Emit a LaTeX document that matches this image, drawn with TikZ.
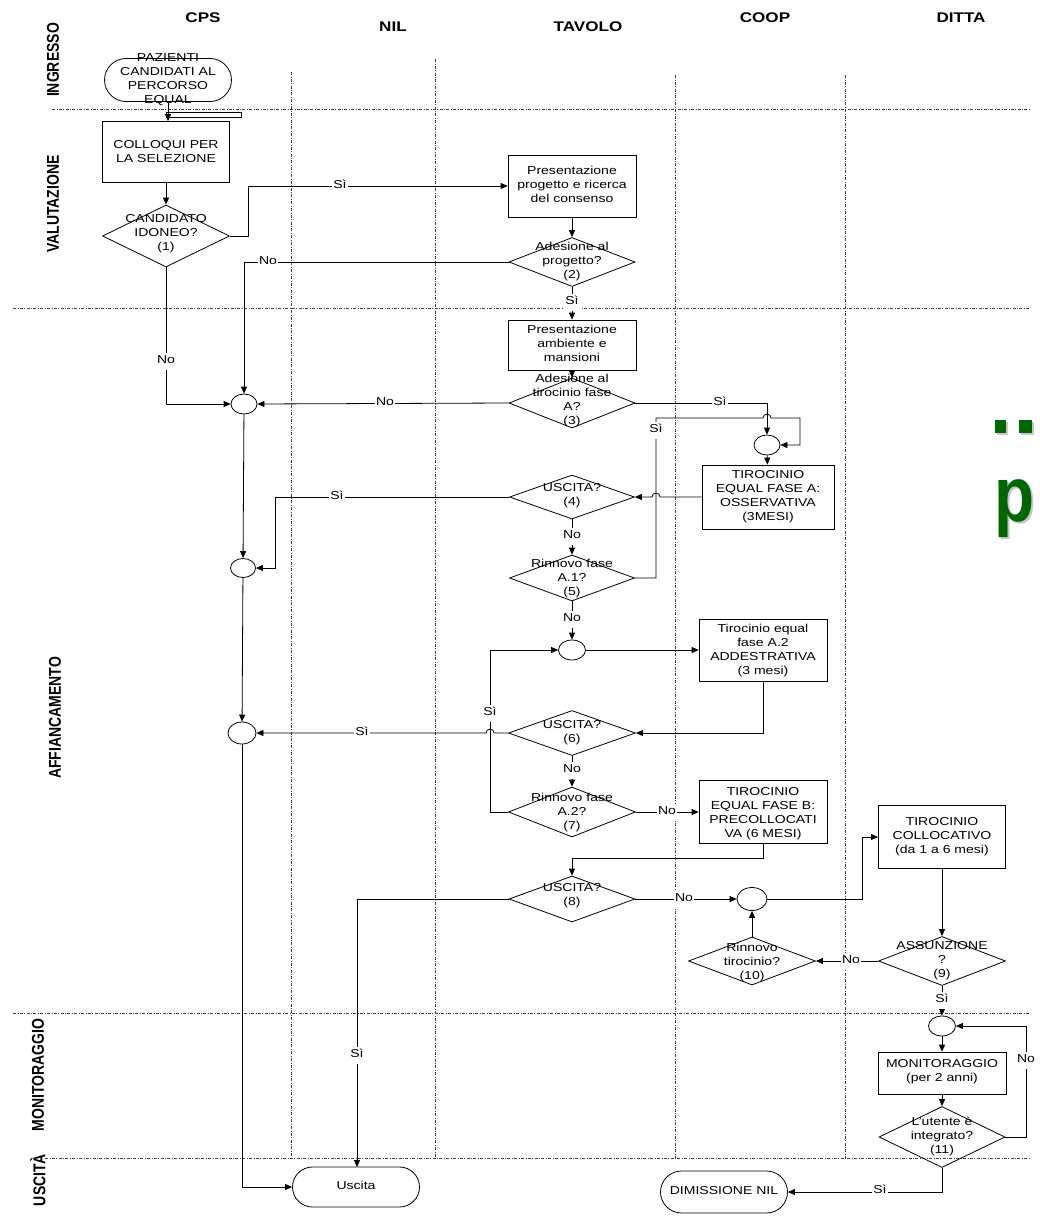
\documentclass[tikz,border=0pt]{standalone}
\usepackage{fontspec}
\setmainfont{Liberation Sans}
\usepackage{graphicx}
\usetikzlibrary{shapes.geometric,shapes.misc,arrows.meta}
\definecolor{grn}{RGB}{0,102,0}
% text is set slightly wide, as in the original chart
\newcommand{\tx}[1]{\scalebox{1.22}[1]{\begin{tabular}{@{}c@{}}#1\end{tabular}}}
\newcommand{\hd}[1]{\scalebox{1.22}[1]{\bfseries #1}}
\newcommand{\sd}[1]{\scalebox{1}[1.22]{\bfseries #1}}
\tikzset{
  lane/.style={draw=black!75, line width=0.6pt, dash pattern=on 3pt off 1.5pt on 0.8pt off 1.5pt},
  box/.style={draw, line width=0.8pt, rectangle, inner sep=0pt},
  dia/.style={draw, line width=0.8pt, diamond, inner sep=0pt},
  term/.style={draw, line width=0.8pt, rounded rectangle, inner sep=0pt},
  jn/.style={draw, line width=0.8pt, ellipse, inner sep=0pt},
  txt/.style={inner sep=0pt, font=\fontsize{11.5}{14}\selectfont},
  lbl/.style={fill=white, inner sep=1.5pt, font=\fontsize{11.5}{14}\selectfont},
  conn/.style={line width=0.8pt, -{Triangle[length=7pt,width=6pt]}},
  wire/.style={line width=0.8pt},
  hdr/.style={inner sep=0pt, font=\fontsize{14}{16}\selectfont},
}
\begin{document}
\begin{tikzpicture}[x=1pt,y=-1pt]
\useasboundingbox (0,0) rectangle (1039,1218);
\fill[white] (0,0) rectangle (1039,1218);

% ---- swimlanes ----
\draw[lane] (291,72) -- (291,1158);
\draw[lane] (435,59) -- (435,1158);
\draw[lane] (675,75) -- (675,1158);
\draw[lane] (845,75) -- (845,1158);
\draw[lane] (52,109) -- (1030,109);
\draw[lane] (13,308) -- (1030,308);
\draw[lane] (13,1013) -- (1030,1013);
\draw[lane] (45,1158) -- (1030,1158);

% column headings
\node[hdr] (hCPS) at (203,18) {\hd{CPS}};
\node[hdr] (hNIL) at (393,27) {\hd{NIL}};
\node[hdr] (hTAV) at (588,27) {\hd{TAVOLO}};
\node[hdr] (hCOOP) at (765,18) {\hd{COOP}};
\node[hdr] (hDIT) at (961,18) {\hd{DITTA}};

% phase headings
\node[hdr, rotate=90] (pIng) at (53,60) {\sd{INGRESSO}};
\node[hdr, rotate=90] (pVal) at (53,204) {\sd{VALUTAZIONE}};
\node[hdr, rotate=90] (pAff) at (55,718) {\sd{AFFIANCAMENTO}};
\node[hdr, rotate=90] (pMon) at (38,1075) {\sd{MONITORAGGIO}};
\node[hdr, rotate=90] (pUsc) at (38,1180) {\sd{USCITÀ}};

% ---- shapes ----
\node[term, minimum width=127pt, minimum height=43pt] (st) at (168,80) {};
\node[box, minimum width=127pt, minimum height=61pt] (c1) at (166,152) {};
\node[dia, minimum width=127pt, minimum height=62pt] (d1) at (166,236) {};
\node[box, minimum width=128pt, minimum height=62pt] (b2) at (572,186) {};
\node[dia, minimum width=126pt, minimum height=49pt] (d2) at (572,262) {};
\node[box, minimum width=128pt, minimum height=50pt] (b3) at (572,345) {};
\node[dia, minimum width=126pt, minimum height=50pt] (d3) at (572,403) {};
\node[jn, minimum width=26pt, minimum height=20pt] (J1) at (244,404) {};
\node[jn, minimum width=26pt, minimum height=20pt] (J2) at (767,445) {};
\node[box, minimum width=132pt, minimum height=64pt] (b4) at (768,497) {};
\node[dia, minimum width=125pt, minimum height=44pt] (d4) at (572,497) {};
\node[dia, minimum width=125pt, minimum height=46pt] (d5) at (572,578) {};
\node[jn, minimum width=25pt, minimum height=19pt] (J3) at (243,568) {};
\node[jn, minimum width=27pt, minimum height=20pt] (J4) at (572,650) {};
\node[box, minimum width=128pt, minimum height=62pt] (b5) at (763,650) {};
\node[dia, minimum width=127pt, minimum height=45pt] (d6) at (572,733) {};
\node[jn, minimum width=28pt, minimum height=22pt] (J5) at (242,733) {};
\node[dia, minimum width=127pt, minimum height=50pt] (d7) at (572,812) {};
\node[box, minimum width=128pt, minimum height=63pt] (b6) at (763,812) {};
\node[dia, minimum width=126pt, minimum height=46pt] (d8) at (572,899) {};
\node[jn, minimum width=30pt, minimum height=23pt] (J6) at (752,899) {};
\node[box, minimum width=127pt, minimum height=63pt] (b7) at (942,837) {};
\node[dia, minimum width=127pt, minimum height=49pt] (d9) at (942,961) {};
\node[dia, minimum width=127pt, minimum height=48pt] (d10) at (752,961) {};
\node[jn, minimum width=27pt, minimum height=20pt] (J7) at (942,1026) {};
\node[box, minimum width=128pt, minimum height=42pt] (b8) at (942,1073) {};
\node[dia, minimum width=126pt, minimum height=61pt] (d11) at (942,1137) {};
\node[term, minimum width=127pt, minimum height=40pt] (t2) at (356,1187) {};
\node[term, minimum width=127pt, minimum height=42pt] (t3) at (724,1192) {};

% thin bar under the start terminal
\draw[line width=0.6pt] (166,112) rectangle (241,117);

% ---- connectors ----
\draw[conn] (st.south) -- (st.south |- c1.north);
\draw[conn] (c1) -- (d1);
\draw[conn] (d1.east) -- (248,236) -- (248,186) -- (b2.west);
\draw[conn] (b2) -- (d2);
\draw[conn] (d2.west) -- (J1.north |- d2.west) -- (J1.north);
\draw[conn] (d1.south) -- (d1.south |- J1.west) -- (J1.west);
\draw[conn] (d2.south) -- (b3.north);
\draw[conn] (b3) -- (d3);
\draw[conn] (d3.west) -- (J1.east);
\draw[conn] (d3.east) -- (J2.north |- d3.east) -- (J2.north);
\draw[conn] (d5.east) -- (656,578) -- (656,418) -- (763,418)
   arc[start angle=180, end angle=360, radius=4] -- (800,418) -- (800,445) -- (J2.east);
\draw[conn] (J2) -- (b4);
\draw[conn] (b4.west) -- (660,497) arc[start angle=0, end angle=-180, radius=4] -- (d4.east);
\draw[conn] (d4.west) -- (275,497) -- (275,568) -- (J3.east);
\draw[conn] (J1) -- (J3);
\draw[conn] (d4) -- (d5);
\draw[conn] (d5) -- (J4);
\draw[conn] (J4) -- (b5);
\draw[conn] (b5.south) -- (b5.south |- d6.east) -- (d6.east);
\draw[conn] (d6.west) -- (494,733) arc[start angle=0, end angle=-180, radius=4] -- (J5.east);
\draw[conn] (J3) -- (J5);
\draw[conn] (J5.south) -- (J5.south |- t2.west) -- (t2.west);
\draw[conn] (d6) -- (d7);
\draw[conn] (d7.west) -- (490,812) -- (490,650) -- (J4.west);
\draw[conn] (d7) -- (b6);
\draw[conn] (b6.south) -- (763,858) -- (572,858) -- (d8.north);
\draw[conn] (d8.west) -- (357,899) -- (357,1167);
\draw[conn] (d8) -- (J6);
\draw[conn] (J6.east) -- (862,899) -- (862,837) -- (b7.west);
\draw[conn] (b7) -- (d9);
\draw[conn] (d9) -- (d10);
\draw[conn] (d10) -- (J6);
\draw[conn] (d9) -- (J7);
\draw[conn] (J7) -- (b8);
\draw[conn] (b8) -- (d11);
\draw[conn] (d11.east) -- (1026,1137) -- (1026,1026) -- (J7.east);
\draw[conn] (d11.south) -- (d11.south |- t3.east) -- (t3.east);

% ---- connector labels ----
\node[lbl] (l1) at (340,186) {\tx{Sì}};
\node[lbl] (l2) at (268,262) {\tx{No}};
\node[lbl] (l3) at (166,361) {\tx{No}};
\node[lbl] (l4) at (572,302) {\tx{Sì}};
\node[lbl] (l5) at (385,403) {\tx{No}};
\node[lbl] (l6) at (720,403) {\tx{Sì}};
\node[lbl] (l7) at (656,430) {\tx{Sì}};
\node[lbl] (l8) at (337,497) {\tx{Sì}};
\node[lbl] (l9) at (572,536) {\tx{No}};
\node[lbl] (l10) at (572,619) {\tx{No}};
\node[lbl] (l11) at (362,733) {\tx{Sì}};
\node[lbl] (l12) at (572,770) {\tx{No}};
\node[lbl] (l13) at (490,713) {\tx{Sì}};
\node[lbl] (l14) at (667,812) {\tx{No}};
\node[lbl] (l15) at (357,1055) {\tx{Sì}};
\node[lbl] (l16) at (684,899) {\tx{No}};
\node[lbl] (l17) at (851,961) {\tx{No}};
\node[lbl] (l18) at (942,1000) {\tx{Sì}};
\node[lbl] (l19) at (1026,1060) {\tx{No}};
\node[lbl] (l20) at (880,1191) {\tx{Sì}};

% ---- texts inside shapes ----
\node[txt] (stT) at (168,80) {\tx{PAZIENTI\\CANDIDATI AL\\PERCORSO\\EQUAL}};
\node[txt] (c1T) at (166,153) {\tx{COLLOQUI PER\\LA SELEZIONE}};
\node[txt] (d1T) at (166,234) {\tx{CANDIDATO\\IDONEO?\\(1)}};
\node[txt] (b2T) at (572,186) {\tx{Presentazione\\progetto e ricerca\\del consenso}};
\node[txt] (d2T) at (572,262) {\tx{Adesione al\\progetto?\\(2)}};
\node[txt] (b3T) at (572,345) {\tx{Presentazione\\ambiente e\\mansioni}};
\node[txt] (d3T) at (572,401) {\tx{Adesione al\\tirocinio fase\\A?\\(3)}};
\node[txt] (b4T) at (768,497) {\tx{TIROCINIO\\EQUAL FASE A:\\OSSERVATIVA\\(3MESI)}};
\node[txt] (d4T) at (572,496) {\tx{USCITA?\\(4)}};
\node[txt] (d5T) at (572,579) {\tx{Rinnovo fase\\A.1?\\(5)}};
\node[txt] (b5T) at (763,651) {\tx{Tirocinio equal\\fase A.2\\ADDESTRATIVA\\(3 mesi)}};
\node[txt] (d6T) at (572,733) {\tx{USCITA?\\(6)}};
\node[txt] (d7T) at (572,813) {\tx{Rinnovo fase\\A.2?\\(7)}};
\node[txt] (b6T) at (763,814) {\tx{TIROCINIO\\EQUAL FASE B:\\PRECOLLOCATI\\VA (6 MESI)}};
\node[txt] (d8T) at (572,896) {\tx{USCITA?\\(8)}};
\node[txt] (b7T) at (942,837) {\tx{TIROCINIO\\COLLOCATIVO\\(da 1 a 6 mesi)}};
\node[txt] (d9T) at (942,961) {\tx{ASSUNZIONE\\?\\(9)}};
\node[txt] (d10T) at (752,963) {\tx{Rinnovo\\tirocinio?\\(10)}};
\node[txt] (b8T) at (942,1072) {\tx{MONITORAGGIO\\(per 2 anni)}};
\node[txt] (d11T) at (942,1137) {\tx{L’utente è\\integrato?\\(11)}};
\node[txt] (t2T) at (356,1187) {\tx{Uscita}};
\node[txt] (t3T) at (724,1192) {\tx{DIMISSIONE NIL}};

% ---- green glyphs at the right edge ----
\fill[black!22] (997,422) rectangle (1008,435);
\fill[black!22] (1021,422) rectangle (1034,435);
\fill[grn] (995,420) rectangle (1006,433);
\fill[grn] (1019,420) rectangle (1032,433);
\node[inner sep=0pt, text=black!22] (gpS) at (1016,511) {\resizebox*{40pt}{58pt}{\bfseries p}};
\node[inner sep=0pt, text=grn] (gp) at (1014,509) {\resizebox*{40pt}{58pt}{\bfseries p}};
\end{tikzpicture}
\end{document}
